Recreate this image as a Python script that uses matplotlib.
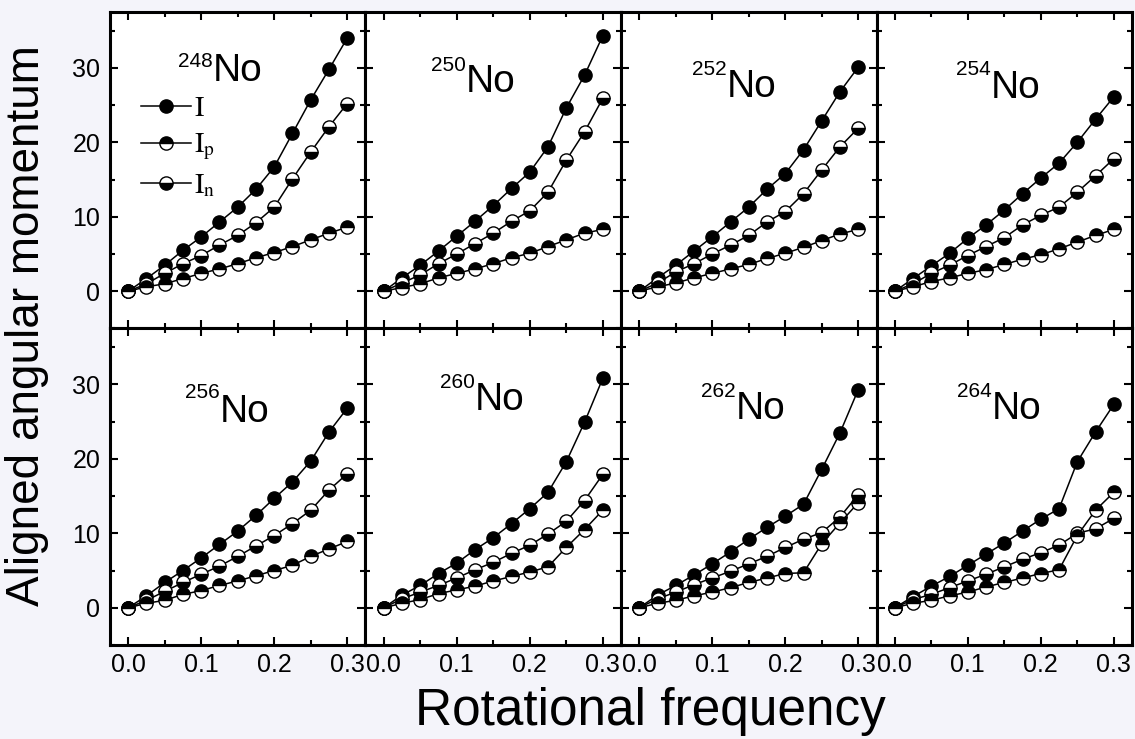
import matplotlib
matplotlib.use('Agg')
import matplotlib.pyplot as plt
from matplotlib.ticker import MultipleLocator, FormatStrFormatter

plt.rcParams['font.family'] = ['Liberation Sans', 'DejaVu Sans']
plt.rcParams['mathtext.fontset'] = 'stix'

# rotational frequency grid (same for every nucleus)
freq = [0.0, 0.025, 0.05, 0.075, 0.1, 0.125, 0.15, 0.175, 0.2, 0.225, 0.25, 0.275, 0.3]

masses = [248, 250, 252, 254, 256, 260, 262, 264]

# total aligned angular momentum I
total_I = {
    248: [0, 1.7, 3.5, 5.5, 7.3, 9.3, 11.3, 13.7, 16.7, 21.2, 25.7, 29.8, 34.0],
    250: [0, 1.8, 3.5, 5.4, 7.4, 9.4, 11.5, 13.8, 16.0, 19.4, 24.6, 29.0, 34.3],
    252: [0, 1.8, 3.5, 5.4, 7.3, 9.3, 11.3, 13.7, 15.8, 19.0, 22.9, 26.8, 30.1],
    254: [0, 1.7, 3.4, 5.1, 7.1, 8.9, 10.9, 13.1, 15.2, 17.2, 20.0, 23.1, 26.1],
    256: [0, 1.6, 3.4, 5.0, 6.7, 8.5, 10.3, 12.4, 14.7, 16.9, 19.7, 23.6, 26.8],
    260: [0, 1.7, 3.0, 4.6, 6.0, 7.8, 9.4, 11.3, 13.3, 15.5, 19.6, 24.9, 30.8],
    262: [0, 1.7, 3.0, 4.4, 5.9, 7.5, 9.2, 10.8, 12.3, 13.9, 18.6, 23.5, 29.3],
    264: [0, 1.5, 2.9, 4.2, 5.7, 7.2, 8.7, 10.3, 11.9, 13.3, 19.6, 23.6, 27.3],
}

# proton contribution Ip
proton_I = {
    248: [0, 0.6, 1.0, 1.7, 2.4, 3.0, 3.7, 4.5, 5.2, 6.0, 6.9, 7.8, 8.6],
    250: [0, 0.5, 1.0, 1.8, 2.4, 3.0, 3.7, 4.5, 5.1, 6.0, 6.9, 7.8, 8.3],
    252: [0, 0.6, 1.1, 1.8, 2.4, 3.0, 3.6, 4.4, 5.1, 5.9, 6.8, 7.7, 8.3],
    254: [0, 0.6, 1.3, 1.8, 2.4, 2.9, 3.6, 4.3, 4.9, 5.7, 6.6, 7.5, 8.3],
    256: [0, 0.6, 1.0, 1.8, 2.3, 3.0, 3.6, 4.3, 5.0, 5.7, 6.9, 7.9, 8.9],
    260: [0, 0.6, 1.1, 1.9, 2.4, 2.9, 3.6, 4.2, 4.8, 5.5, 8.1, 10.5, 13.1],
    262: [0, 0.6, 1.0, 1.6, 2.1, 2.7, 3.4, 4.0, 4.6, 4.7, 8.6, 11.4, 14.1],
    264: [0, 0.6, 1.0, 1.6, 2.1, 2.8, 3.4, 4.0, 4.6, 5.1, 9.7, 13.1, 15.5],
}

# neutron contribution In
neutron_I = {
    248: [0, 1.0, 2.4, 3.7, 4.8, 6.2, 7.5, 9.2, 11.3, 15.1, 18.7, 22.1, 25.2],
    250: [0, 1.1, 2.2, 3.7, 5.0, 6.4, 7.8, 9.4, 10.8, 13.3, 17.6, 21.4, 25.9],
    252: [0, 1.1, 2.6, 3.7, 5.0, 6.2, 7.5, 9.3, 10.7, 13.1, 16.3, 19.4, 21.9],
    254: [0, 1.0, 2.4, 3.5, 4.8, 6.0, 7.2, 8.9, 10.2, 11.3, 13.3, 15.5, 17.8],
    256: [0, 1.0, 2.2, 3.4, 4.5, 5.6, 6.9, 8.3, 9.7, 11.3, 13.1, 15.8, 18.0],
    260: [0, 1.2, 2.1, 3.0, 4.0, 5.1, 6.1, 7.3, 8.4, 9.9, 11.6, 14.4, 17.9],
    262: [0, 1.2, 2.1, 3.1, 4.0, 4.9, 5.9, 6.9, 8.1, 9.2, 10.1, 12.2, 15.2],
    264: [0, 1.1, 1.8, 2.7, 3.6, 4.5, 5.5, 6.5, 7.4, 8.4, 10.0, 10.6, 12.0],
}

# nucleus label placement (axes fraction): x of "No", baseline of "No", baseline of mass number
label_pos = {
    248: (0.403, 0.782, 0.826),
    250: (0.393, 0.747, 0.814),
    252: (0.415, 0.732, 0.801),
    254: (0.448, 0.729, 0.801),
    256: (0.431, 0.706, 0.780),
    260: (0.429, 0.743, 0.812),
    262: (0.450, 0.714, 0.783),
    264: (0.452, 0.714, 0.783),
}

fig, axes = plt.subplots(2, 4, figsize=(11.35, 7.39), dpi=100, sharex=True, sharey=True)
fig.patch.set_facecolor('#f4f4fa')
fig.subplots_adjust(left=0.0969, right=0.9974, top=0.9838, bottom=0.1272,
                    wspace=0, hspace=0)

mk = dict(marker='o', markersize=9.5, markeredgewidth=1.0, markeredgecolor='black',
          markerfacecolor='black', markerfacecoloralt='white', color='black', lw=1.1)

for idx, (ax, m) in enumerate(zip(axes.flat, masses)):
    ax.plot(freq, total_I[m], fillstyle='full', label='I', **mk)
    ax.plot(freq, neutron_I[m], fillstyle='bottom', label='In', **mk)
    ax.plot(freq, proton_I[m], fillstyle='top', label='Ip', **mk)

    ax.set_xlim(-0.025, 0.325)
    ax.set_ylim(-5, 37.5)
    ax.xaxis.set_major_locator(MultipleLocator(0.1))
    ax.xaxis.set_minor_locator(MultipleLocator(0.05))
    ax.yaxis.set_major_locator(MultipleLocator(10))
    ax.yaxis.set_minor_locator(MultipleLocator(5))
    ax.xaxis.set_major_formatter(FormatStrFormatter('%.1f'))
    ax.yaxis.set_major_formatter(FormatStrFormatter('%d'))
    ax.tick_params(which='both', direction='in', top=True, right=True,
                   width=1.5, labelsize=18)
    ax.tick_params(which='major', length=5.5)
    ax.tick_params(which='minor', length=3.5)
    ax.tick_params(axis='x', pad=6)
    ax.tick_params(axis='y', pad=7)
    for s in ax.spines.values():
        s.set_linewidth(2.2)
    ax.set_facecolor('white')

    lx, ly, sy = label_pos[m]
    ax.text(lx, ly, 'No', transform=ax.transAxes, fontsize=28,
            ha='left', va='baseline')
    ax.text(lx, sy, str(m), transform=ax.transAxes, fontsize=15,
            ha='right', va='baseline')

# legend in the first panel
ax0 = axes[0, 0]
h = ax0.get_lines()
ax0.legend([h[0], h[2], h[1]],
           [r'$\mathrm{I}$', r'$\mathrm{I_p}$', r'$\mathrm{I_n}$'],
           loc='upper left', bbox_to_anchor=(0.122, 0.735), frameon=False,
           fontsize=20, handlelength=1.8, handletextpad=0.1,
           labelspacing=0.35, borderpad=0, borderaxespad=0)

fig.text(0.573, 0.037, 'Rotational frequency', fontsize=37,
         ha='center', va='center')
fig.text(0.024, 0.56, 'Aligned angular momentum', fontsize=33,
         ha='center', va='center', rotation=90)

fig.savefig('out.png', dpi=100, facecolor=fig.get_facecolor())
